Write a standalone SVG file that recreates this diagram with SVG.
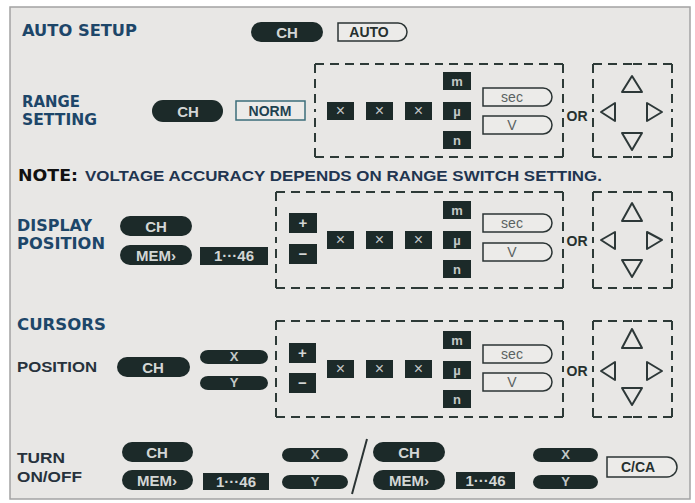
<svg xmlns="http://www.w3.org/2000/svg" width="695" height="503" viewBox="0 0 695 503">
<style>
.frame{fill:#e8e7e5;stroke:#a3a3a3;stroke-width:1.5}
.btn{fill:#1c2a29}
.bt{fill:#d3d6d5;font-family:"Liberation Sans",Arial,sans-serif;font-weight:bold;font-size:15px;text-anchor:middle}
.bs{fill:#c3c8c7;font-family:"Liberation Sans",Arial,sans-serif;font-weight:bold;font-size:13px;text-anchor:middle}
.bx{fill:#c3c8c7;font-family:"Liberation Sans",Arial,sans-serif;font-size:16px;text-anchor:middle}
.out{fill:#ecebe9;stroke:#2b3434;stroke-width:1.5}
.ot{fill:#26302f;font-family:"Liberation Sans",Arial,sans-serif;font-weight:bold;font-size:14px;text-anchor:middle}
.og{fill:#5a6262;font-family:"Liberation Sans",Arial,sans-serif;font-size:14px;text-anchor:middle}
.dash{fill:none;stroke:#2d3a37;stroke-width:2;stroke-dasharray:9 6}
.tri{fill:none;stroke:#2d3838;stroke-width:2;stroke-linejoin:round}
.head{fill:#1d4669;font-family:"DejaVu Sans",sans-serif;font-weight:bold;font-size:15.5px}
.sub{fill:#27323c;font-family:"Liberation Sans",Arial,sans-serif;font-weight:bold;font-size:15px}
.or{fill:#26302f;font-family:"Liberation Sans",Arial,sans-serif;font-weight:bold;font-size:14px;text-anchor:middle}
</style>
<rect x="0" y="0" width="695" height="503" fill="#ffffff"/>
<rect class="frame" x="10" y="7" width="680" height="492"/>

<!-- Labels -->
<g id="labels">
<text class="head" x="22" y="36" textLength="115" lengthAdjust="spacingAndGlyphs">AUTO SETUP</text>
<text class="head" x="22" y="107" textLength="58" lengthAdjust="spacingAndGlyphs">RANGE</text>
<text class="head" x="22" y="125" textLength="75" lengthAdjust="spacingAndGlyphs">SETTING</text>
<text x="18" y="181"><tspan fill="#111" font-family="DejaVu Sans,sans-serif" font-weight="bold" font-size="15" textLength="60" lengthAdjust="spacingAndGlyphs">NOTE:</tspan></text>
<text x="85" y="181" fill="#1f3550" font-family="Liberation Sans,Arial,sans-serif" font-weight="bold" font-size="15" textLength="517" lengthAdjust="spacingAndGlyphs">VOLTAGE ACCURACY DEPENDS ON RANGE SWITCH SETTING.</text>
<text class="head" x="17" y="231" textLength="75" lengthAdjust="spacingAndGlyphs">DISPLAY</text>
<text class="head" x="17" y="249" textLength="88" lengthAdjust="spacingAndGlyphs">POSITION</text>
<text class="head" x="17" y="330" textLength="89" lengthAdjust="spacingAndGlyphs">CURSORS</text>
<text class="sub" x="17" y="372" textLength="80" lengthAdjust="spacingAndGlyphs">POSITION</text>
<text class="sub" x="17" y="463" textLength="48" lengthAdjust="spacingAndGlyphs">TURN</text>
<text class="sub" x="17" y="482" textLength="65" lengthAdjust="spacingAndGlyphs">ON/OFF</text>
</g>

<!-- AUTO SETUP -->
<g id="auto-ch"><rect class="btn" x="251" y="22" width="72" height="20" rx="10"/><text class="bt" x="287" y="37.5">CH</text></g>
<g id="auto-auto"><path class="out" d="M338,23 H398 A9,9 0 0 1 398,41 H338 Z"/><text class="ot" x="369" y="37">AUTO</text></g>

<!-- RANGE SETTING -->
<g id="range-ch"><rect class="btn" x="152" y="100" width="71" height="22" rx="11"/><text class="bt" x="188" y="116.5">CH</text></g>
<g id="range-norm"><rect x="236" y="101" width="69" height="19" fill="#ecebe9" stroke="#3b6e7a" stroke-width="1.5"/><text x="270" y="116" fill="#1f4250" font-family="Liberation Sans,Arial,sans-serif" font-weight="bold" font-size="14" text-anchor="middle">NORM</text></g>
<g id="range-digits">
<path class="dash" d="M315,64 H439 M563,64 H439 M563,64 V110 M563,157 V110 M563,157 H439 M315,157 H439 M315,157 V110 M315,64 V110"/>
<rect class="btn" x="327" y="102" width="27" height="18"/><text class="bx" x="340.5" y="116">×</text>
<rect class="btn" x="366" y="102" width="27" height="18"/><text class="bx" x="379.5" y="116">×</text>
<rect class="btn" x="405" y="102" width="27" height="18"/><text class="bx" x="418.5" y="116">×</text>
<rect class="btn" x="443" y="72" width="28" height="18"/><text class="bs" x="457" y="85.5">m</text>
<rect class="btn" x="443" y="102" width="28" height="18"/><text class="bs" x="457" y="115.5">µ</text>
<rect class="btn" x="443" y="131" width="28" height="18"/><text class="bs" x="457" y="144.5">n</text>
<path class="out" d="M483,88 H543 A9,9 0 0 1 543,106 H483 Z"/><text class="og" x="512" y="101.5">sec</text>
<path class="out" d="M483,116 H543 A9,9 0 0 1 543,134 H483 Z"/><text class="og" x="512" y="130">V</text>
</g>
<g id="range-or"><text class="or" x="577" y="121">OR</text></g>
<g id="range-arrows">
<path class="dash" d="M593,64 H633 M672,64 H633 M672,64 V110 M672,157 V110 M672,157 H633 M593,157 H633 M593,157 V110 M593,64 V110"/>
<path class="tri" d="M632,76 L622,92 L642,92 Z"/>
<path class="tri" d="M601,112 L615,103 L615,121 Z"/>
<path class="tri" d="M662,112 L647,103 L647,121 Z"/>
<path class="tri" d="M632,150 L622,133 L642,133 Z"/>
</g>

<!-- DISPLAY POSITION -->
<g id="disp-ch"><rect class="btn" x="120" y="216" width="72" height="20" rx="10"/><text class="bt" x="156" y="231.5">CH</text></g>
<g id="disp-mem"><rect class="btn" x="120" y="245" width="72" height="20" rx="10"/><text class="bt" x="156" y="260.5">MEM›</text></g>
<g id="disp-num"><rect class="btn" x="200" y="247" width="68" height="18"/><text class="bt" x="234" y="261" font-size="14">1···46</text></g>
<g id="disp-digits">
<path class="dash" d="M276,192 H420 M563,192 H420 M563,192 V240 M563,288 V240 M563,288 H420 M276,288 H420 M276,288 V240 M276,192 V240"/>
<rect class="btn" x="289" y="213" width="28" height="20"/><text class="bt" x="303" y="228">+</text>
<rect class="btn" x="289" y="244" width="28" height="20"/><text class="bt" x="303" y="259">−</text>
<rect class="btn" x="327" y="231" width="27" height="18"/><text class="bx" x="340.5" y="245">×</text>
<rect class="btn" x="366" y="231" width="27" height="18"/><text class="bx" x="379.5" y="245">×</text>
<rect class="btn" x="405" y="231" width="27" height="18"/><text class="bx" x="418.5" y="245">×</text>
<rect class="btn" x="443" y="201" width="28" height="18"/><text class="bs" x="457" y="214.5">m</text>
<rect class="btn" x="443" y="231" width="28" height="18"/><text class="bs" x="457" y="244.5">µ</text>
<rect class="btn" x="443" y="260" width="28" height="18"/><text class="bs" x="457" y="273.5">n</text>
<path class="out" d="M483,214 H543 A9,9 0 0 1 543,232 H483 Z"/><text class="og" x="512" y="227.5">sec</text>
<path class="out" d="M483,243 H543 A9,9 0 0 1 543,261 H483 Z"/><text class="og" x="512" y="257">V</text>
</g>
<g id="disp-or"><text class="or" x="577" y="246">OR</text></g>
<g id="disp-arrows">
<path class="dash" d="M593,192 H633 M672,192 H633 M672,192 V240 M672,288 V240 M672,288 H633 M593,288 H633 M593,288 V240 M593,192 V240"/>
<path class="tri" d="M632,203 L622,221 L642,221 Z"/>
<path class="tri" d="M601,240 L615,232 L615,249 Z"/>
<path class="tri" d="M662,240 L647,232 L647,249 Z"/>
<path class="tri" d="M632,277 L622,260 L642,260 Z"/>
</g>

<!-- CURSORS POSITION -->
<g id="cur-ch"><rect class="btn" x="117" y="357" width="73" height="20" rx="10"/><text class="bt" x="153" y="372.5">CH</text></g>
<g id="cur-x"><rect class="btn" x="200" y="350" width="68" height="14" rx="8" ry="7"/><text class="bs" x="234" y="361" font-size="11">X</text></g>
<g id="cur-y"><rect class="btn" x="200" y="376" width="68" height="14" rx="8" ry="7"/><text class="bs" x="234" y="387" font-size="11">Y</text></g>
<g id="cur-digits">
<path class="dash" d="M276,321 H420 M563,321 H420 M563,321 V369 M563,417 V369 M563,417 H420 M276,417 H420 M276,417 V369 M276,321 V369"/>
<rect class="btn" x="289" y="343" width="27" height="20"/><text class="bt" x="302.5" y="358">+</text>
<rect class="btn" x="289" y="373" width="27" height="20"/><text class="bt" x="302.5" y="388">−</text>
<rect class="btn" x="327" y="360" width="27" height="18"/><text class="bx" x="340.5" y="374">×</text>
<rect class="btn" x="366" y="360" width="27" height="18"/><text class="bx" x="379.5" y="374">×</text>
<rect class="btn" x="405" y="360" width="27" height="18"/><text class="bx" x="418.5" y="374">×</text>
<rect class="btn" x="443" y="331" width="28" height="18"/><text class="bs" x="457" y="344.5">m</text>
<rect class="btn" x="443" y="361" width="28" height="18"/><text class="bs" x="457" y="374.5">µ</text>
<rect class="btn" x="443" y="390" width="28" height="18"/><text class="bs" x="457" y="403.5">n</text>
<path class="out" d="M483,345 H543 A9,9 0 0 1 543,363 H483 Z"/><text class="og" x="512" y="358.5">sec</text>
<path class="out" d="M483,373 H543 A9,9 0 0 1 543,391 H483 Z"/><text class="og" x="512" y="387">V</text>
</g>
<g id="cur-or"><text class="or" x="577" y="376">OR</text></g>
<g id="cur-arrows">
<path class="dash" d="M593,321 H633 M672,321 H633 M672,321 V369 M672,417 V369 M672,417 H633 M593,417 H633 M593,417 V369 M593,321 V369"/>
<path class="tri" d="M632,329 L622,348 L642,348 Z"/>
<path class="tri" d="M601,371 L615,362 L615,380 Z"/>
<path class="tri" d="M662,371 L647,362 L647,380 Z"/>
<path class="tri" d="M632,405 L622,388 L642,388 Z"/>
</g>

<!-- TURN ON/OFF -->
<g id="turn-ch1"><rect class="btn" x="122" y="442" width="71" height="20" rx="10"/><text class="bt" x="157" y="457.5">CH</text></g>
<g id="turn-mem1"><rect class="btn" x="122" y="470" width="71" height="20" rx="10"/><text class="bt" x="157" y="485.5">MEM›</text></g>
<g id="turn-num1"><rect class="btn" x="203" y="473" width="66" height="17"/><text class="bt" x="236" y="486.5" font-size="14">1···46</text></g>
<g id="turn-x1"><rect class="btn" x="282" y="448" width="66" height="14" rx="8" ry="7"/><text class="bs" x="315" y="459" font-size="11">X</text></g>
<g id="turn-y1"><rect class="btn" x="282" y="475" width="66" height="14" rx="8" ry="7"/><text class="bs" x="315" y="486" font-size="11">Y</text></g>
<g id="connectors"><line x1="367" y1="439" x2="352" y2="494" stroke="#2b3434" stroke-width="2"/></g>
<g id="turn-ch2"><rect class="btn" x="373" y="442" width="72" height="20" rx="10"/><text class="bt" x="409" y="457.5">CH</text></g>
<g id="turn-mem2"><rect class="btn" x="373" y="470" width="72" height="20" rx="10"/><text class="bt" x="409" y="485.5">MEM›</text></g>
<g id="turn-num2"><rect class="btn" x="456" y="472" width="59" height="17"/><text class="bt" x="485.5" y="485.5" font-size="14">1···46</text></g>
<g id="turn-x2"><rect class="btn" x="533" y="448" width="65" height="14" rx="8" ry="7"/><text class="bs" x="565.5" y="459" font-size="11">X</text></g>
<g id="turn-y2"><rect class="btn" x="533" y="475" width="65" height="14" rx="8" ry="7"/><text class="bs" x="565.5" y="486" font-size="11">Y</text></g>
<g id="turn-cca"><path class="out" d="M607,457 H667 A10,10 0 0 1 667,477 H607 Z"/><text class="ot" x="638" y="472">C/CA</text></g>
</svg>
